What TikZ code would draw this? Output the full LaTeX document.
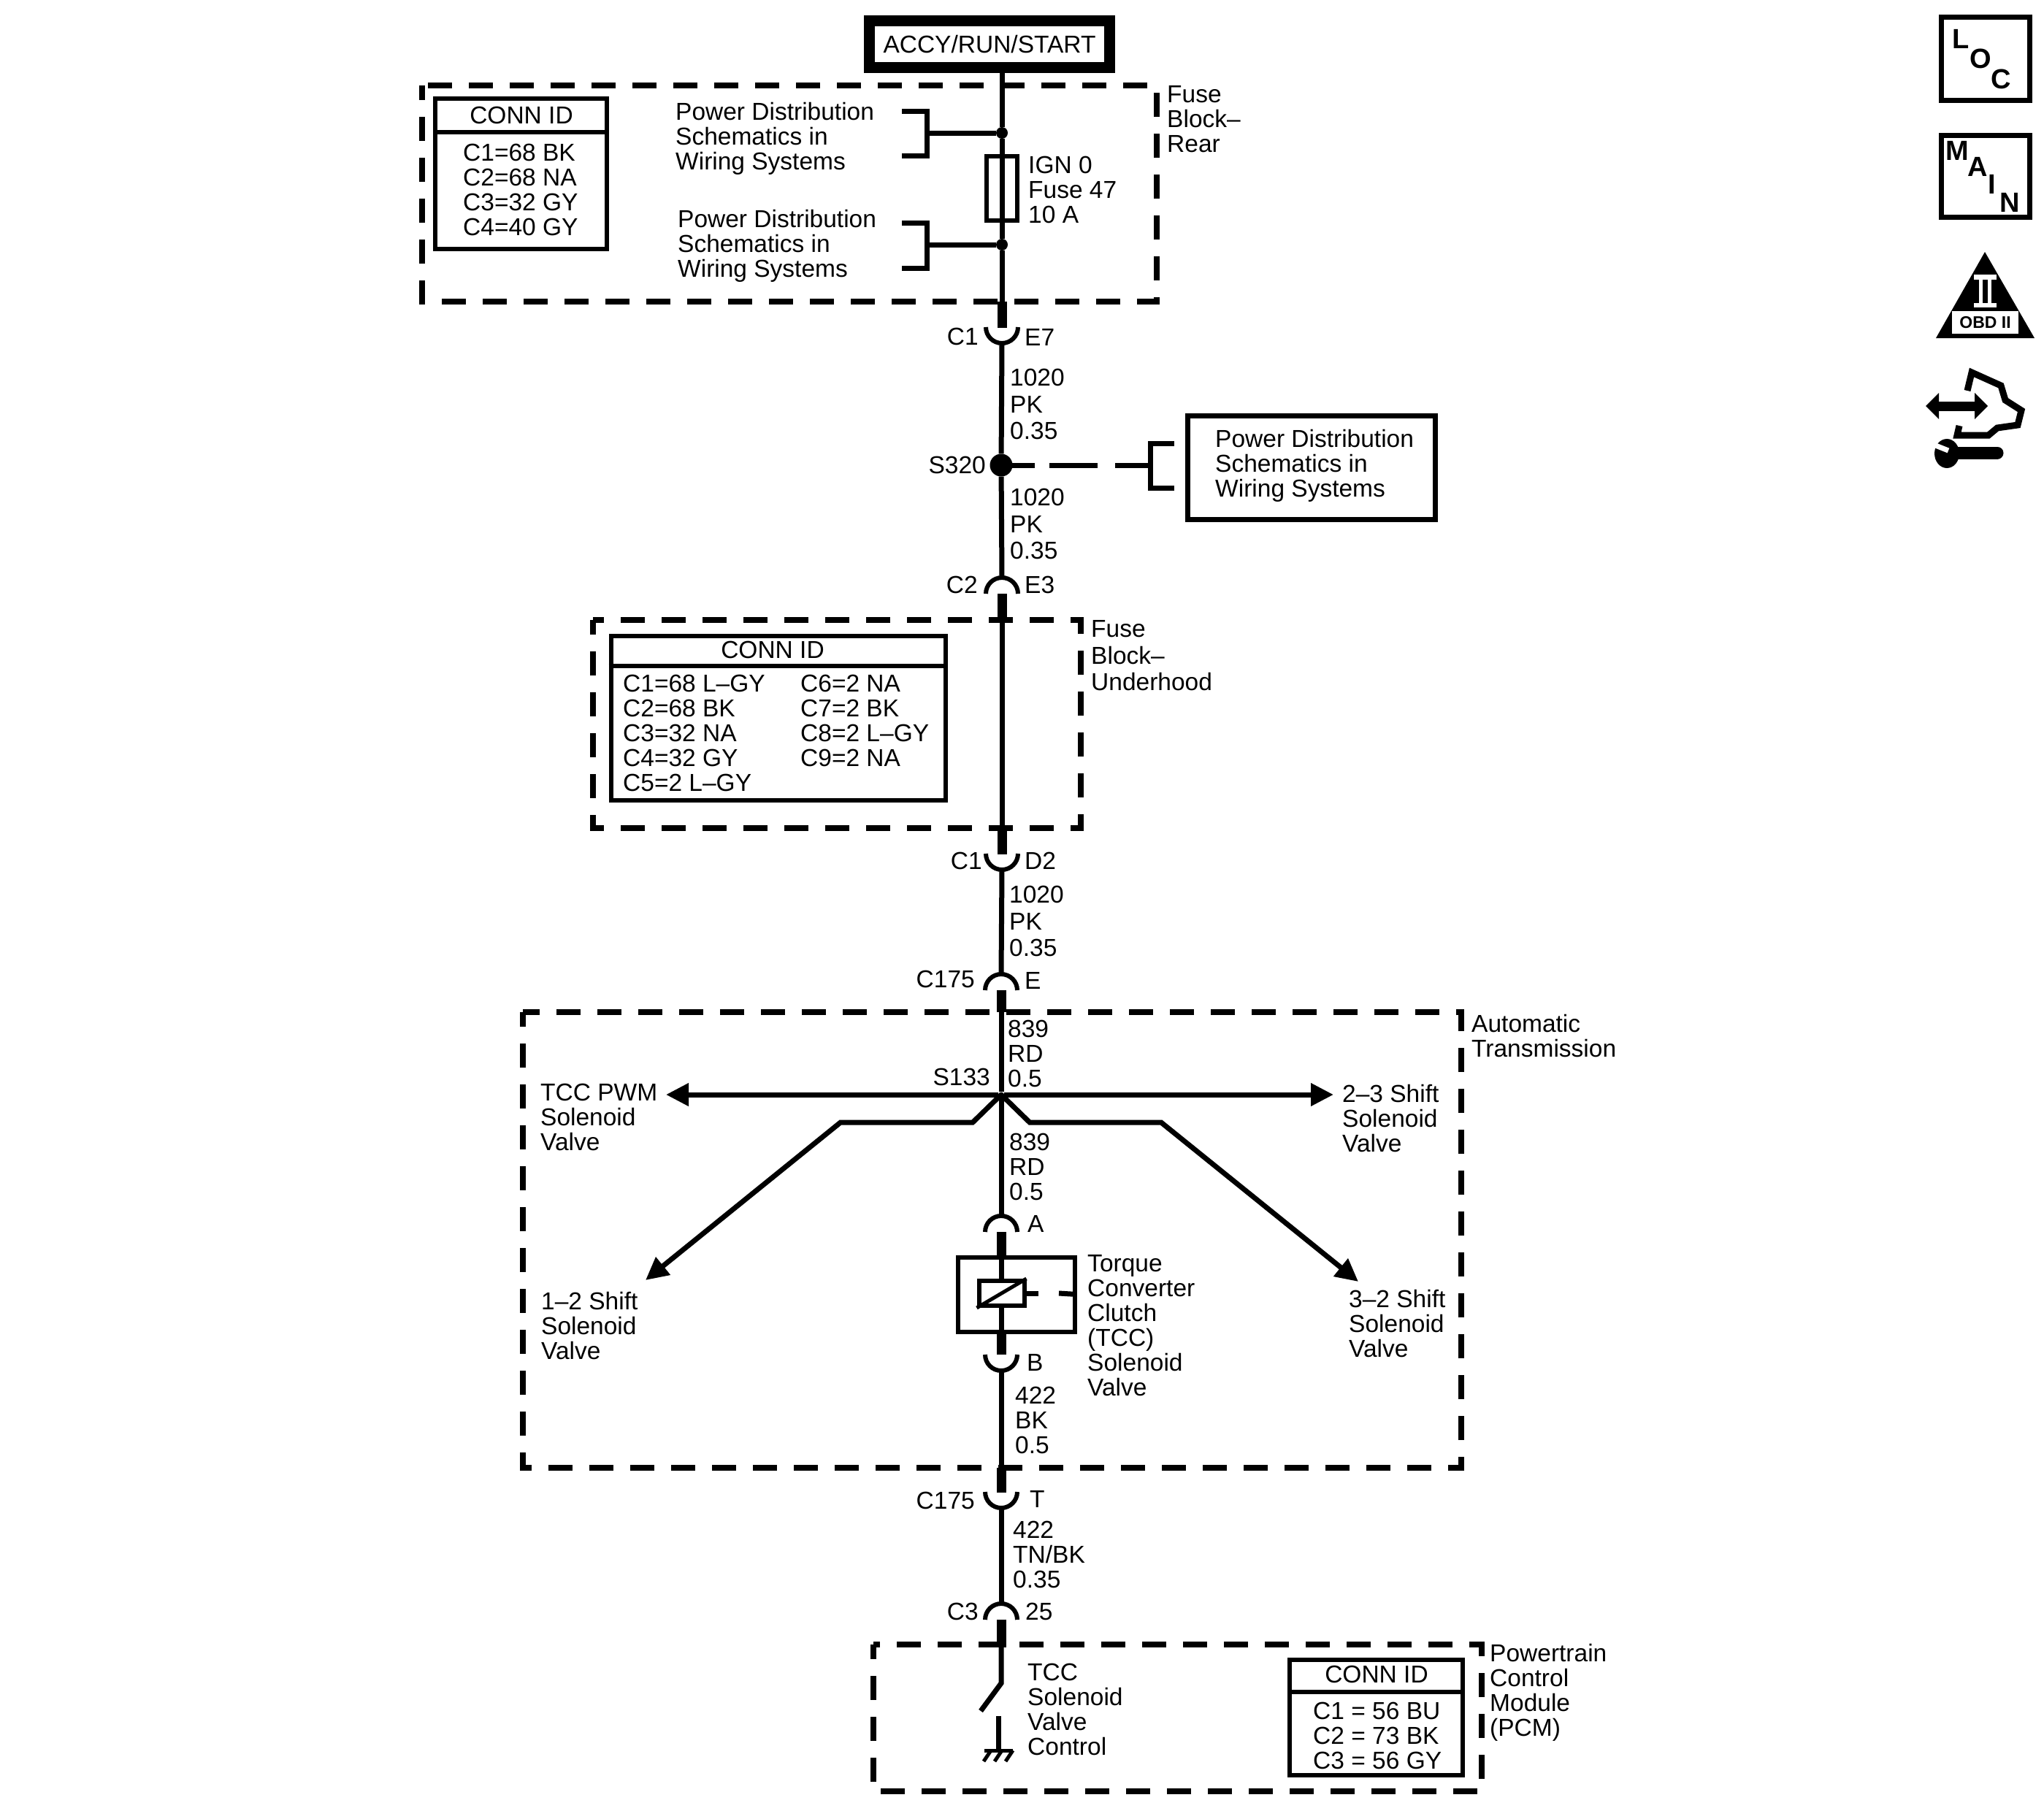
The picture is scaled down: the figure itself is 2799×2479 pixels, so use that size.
\documentclass[tikz,border=0pt]{standalone}
\usepackage{fontspec}
\setmainfont{Liberation Sans}
\usetikzlibrary{arrows.meta}
\begin{document}
\begin{tikzpicture}[x=1pt,y=-1pt,
    wire/.style ={line width=7pt},
    thickwire/.style ={line width=13pt},
    branch/.style ={line width=7pt,-{Triangle[length=31pt,width=30pt]}},
    plug/.style ={line width=6pt},
    dashbox/.style ={line width=8pt,dash pattern=on 33pt off 23pt,dash phase=13pt},
    box/.style ={rectangle,draw,line width=6pt,inner sep=0pt},
    dot/.style ={circle,fill,inner sep=0pt,minimum size=16pt},
    lbl/.style ={font=\fontsize{33.5}{34}\selectfont,inner sep=0pt,anchor=base west,align=left,yshift=1.5pt},
    lblr/.style ={font=\fontsize{33.5}{34}\selectfont,inner sep=0pt,anchor=base east,yshift=1.5pt},
    wirelbl/.style ={font=\fontsize{33.5}{36.5}\selectfont,inner sep=0pt,anchor=base west,align=left,yshift=1.5pt},
    letter/.style ={font=\bfseries\fontsize{38}{38}\selectfont,inner sep=0pt}]
   \useasboundingbox (0,0) rectangle (2799,2479);
   % power source
   \node[box,line width=15pt,minimum width=329pt,minimum height=64pt,font=\fontsize{33.5}{34}\selectfont] (accy) at (1355,60.5) {ACCY/RUN/START};
   % main wire points
   \coordinate (top) at (1372,92);
   \coordinate (e7in) at (1372,413);
   \coordinate (e7) at (1372,448);
   \coordinate (e7out) at (1372,470);
   \coordinate (e3in) at (1372,791);
   \coordinate (e3) at (1372,813);
   \coordinate (e3out) at (1372,850);
   \coordinate (d2in) at (1372,1133);
   \coordinate (d2) at (1372,1169);
   \coordinate (d2out) at (1372,1191);
   \coordinate (ein) at (1371,1334);
   \coordinate (e) at (1371,1356);
   \coordinate (eout) at (1371,1386);
   \node[dot,minimum size=7pt] (s133) at (1371,1499) {};
   \coordinate (ain) at (1371,1665);
   \coordinate (a) at (1371,1687);
   \coordinate (bpin) at (1371,1855);
   \coordinate (bout) at (1371,1877);
   \coordinate (tin) at (1371,2010);
   \coordinate (t) at (1371,2043);
   \coordinate (tout) at (1371,2065);
   \coordinate (in25) at (1371,2196);
   \coordinate (pin25) at (1371,2218);
   \coordinate (out25) at (1371,2256);
   \coordinate (hinge) at (1371,2305);
   \coordinate (blade) at (1343,2343);
   % dashed housings
   \draw[dashbox] (578,117) rectangle (1584,413);
   \draw[dashbox] (812,849) rectangle (1480,1134);
   \draw[dashbox] (716,1386) rectangle (2001,2010);
   \draw[dashbox] (1196,2252) rectangle (2029,2453);
   % fuse block rear
   \node[dot] (sp1) at (1372,182) {};
   \node[dot] (sp2) at (1372,335) {};
   \node[box,minimum width=42pt,minimum height=88pt] (fuse) at (1372,258) {};
   \draw[wire] (top) -- (sp1) -- (fuse.north);
   \draw[wire] (fuse.north) -- (fuse.south);
   \draw[wire] (fuse.south) -- (sp2) -- (e7in);
   \draw[thickwire] (e7in) -- ([yshift=-1pt]e7);
   \coordinate (br1) at (1269,182);
   \coordinate (br2) at (1269,335);
   \draw[wire] (sp1) -- (br1);
   \draw[wire] (sp2) -- (br2);
   \draw[wire] (1235,152) -- (1269,152) -- (1269,213) -- (1235,213);
   \draw[wire] (1235,305) -- (1269,305) -- (1269,367) -- (1235,367);
   \node[lbl] (pd1) at (925,234) {Power Distribution\\Schematics in\\Wiring Systems};
   \node[lbl] (pd2) at (928,381) {Power Distribution\\Schematics in\\Wiring Systems};
   \node[lbl] (ign) at (1408,307) {IGN 0\\Fuse 47\\10 A};
   \node[lbl] (rear) at (1598,210) {Fuse\\Block--\\Rear};
   % conn id 1
   \node[box,minimum width=235pt,minimum height=206pt] (conn1) at (713.5,238) {};
   \draw[box] (conn1.west |- 0,181) -- (conn1.east |- 0,181);
   \node[lbl,anchor=base] (conn1t) at (714,171) {CONN ID};
   \node[lbl] (conn1l) at (634,324) {C1=68 BK\\C2=68 NA\\C3=32 GY\\C4=40 GY};
   % splice s320
   \node[dot,minimum size=31pt] (s320) at (1371,637) {};
   \node[lblr] (s320l) at (1350,650) {S320};
   \node[box,line width=7pt,minimum width=339pt,minimum height=142pt] (pd3box) at (1795.5,640) {};
   \node[lbl] (pd3) at (1664,682) {Power Distribution\\Schematics in\\Wiring Systems};
   \coordinate (br3) at (1575,637);
   \draw[wire,dash pattern=on 46pt off 20pt on 66pt off 24pt on 60pt] (s320.center) -- (br3);
   \draw[wire] (1608,607) -- (br3 |- 0,607) -- (br3 |- 0,668) -- (1608,668);
   \draw[wire] (e7out) -- (s320);
   \draw[wire] (s320) -- (e3in);
   \draw[thickwire] (e3) -- (e3out);
   \node[wirelbl] (w1) at (1383,603) {1020\\PK\\0.35};
   \node[wirelbl] (w2) at (1383,767) {1020\\PK\\0.35};
   % connector labels
   \node[lblr] (c1a) at (1340,474) {C1};
   \node[lbl] (e7l) at (1403,475) {E7};
   \node[lblr] (c2a) at (1339,814) {C2};
   \node[lbl] (e3l) at (1403,814) {E3};
   % fuse block underhood
   \draw[wire] (e3out) -- (d2in);
   \draw[thickwire] (d2in) -- ([yshift=-1pt]d2);
   \node[box,minimum width=458pt,minimum height=225pt] (conn2) at (1065.5,983.5) {};
   \draw[box] (conn2.west |- 0,912) -- (conn2.east |- 0,912);
   \node[lbl,anchor=base] (conn2t) at (1058,903) {CONN ID};
   \node[lbl] (conn2l) at (853,1085) {C1=68 L--GY\\C2=68 BK\\C3=32 NA\\C4=32 GY\\C5=2 L--GY};
   \node[lbl] (conn2r) at (1096,1051) {C6=2 NA\\C7=2 BK\\C8=2 L--GY\\C9=2 NA};
   \node[wirelbl] (under) at (1494,947) {Fuse\\Block--\\Underhood};
   \node[lblr] (c1b) at (1345,1192) {C1};
   \node[lbl] (d2l) at (1403,1192) {D2};
   \draw[wire] (d2out) -- (ein);
   \node[wirelbl] (w3) at (1382,1311) {1020\\PK\\0.35};
   \node[lblr] (c175a) at (1335,1354) {C175};
   \node[lbl] (el) at (1403,1356) {E};
   % automatic transmission
   \draw[thickwire] (e) -- (eout);
   \draw[wire] (eout) -- (s133);
   \node[lbl] (auto) at (2015,1449) {Automatic\\Transmission};
   \node[lbl] (w4) at (1380,1490) {839\\RD\\0.5};
   \node[lblr] (s133l) at (1356,1488) {S133};
   \coordinate (tccpwm) at (912,1499);
   \coordinate (sh23) at (1826,1499);
   \coordinate (sh12a) at (1332,1537);
   \coordinate (sh12b) at (1151,1537);
   \coordinate (sh12) at (884,1753);
   \coordinate (sh32a) at (1410,1537);
   \coordinate (sh32b) at (1590,1537);
   \coordinate (sh32) at (1860,1755);
   \draw[branch] (s133) -- (tccpwm);
   \draw[branch] (s133) -- (sh23);
   \draw[branch] (s133.center) -- (sh12a) -- (sh12b) -- (sh12);
   \draw[branch] (s133.center) -- (sh32a) -- (sh32b) -- (sh32);
   \node[lbl] (tccl) at (740,1577) {TCC PWM\\Solenoid\\Valve};
   \node[lbl] (l23) at (1838,1579) {2--3 Shift\\Solenoid\\Valve};
   \node[lbl] (l12) at (741,1863) {1--2 Shift\\Solenoid\\Valve};
   \node[lbl] (l32) at (1847,1860) {3--2 Shift\\Solenoid\\Valve};
   \draw[wire] (s133) -- (ain);
   \node[lbl] (w5) at (1382,1645) {839\\RD\\0.5};
   \node[lbl] (al) at (1407,1689) {A};
   % tcc solenoid
   \node[box,minimum width=160pt,minimum height=102pt] (sol) at (1391.5,1772.5) {};
   \node[box,minimum width=62pt,minimum height=34pt] (coil) at (1371.5,1771) {};
   \draw[line width=5pt] (coil.south west) -- (coil.north east);
   \draw[thickwire] (a) -- (1371,1719);
   \draw[wire] (1371,1722) -- (coil.north -| 1371,0);
   \draw[wire] (coil.south -| 1371,0) -- (1371,1823);
   \draw[thickwire] (1371,1826) -- (bpin);
   \draw[wire] (coil.east) -- (1422,1771);
   \draw[wire] (1450,1771) -- (sol.east);
   \node[lbl] (tcc) at (1489,1913) {Torque\\Converter\\Clutch\\(TCC)\\Solenoid\\Valve};
   \node[lbl] (bl) at (1406,1879) {B};
   \draw[wire] (bout) -- (tin);
   \node[lbl] (w6) at (1390,1992) {422\\BK\\0.5};
   \draw[thickwire] (tin) -- ([yshift=-1pt]t);
   \node[lblr] (c175b) at (1335,2068) {C175};
   \node[lbl] (tl) at (1410,2066) {T};
   \draw[wire] (tout) -- (in25);
   \node[lbl] (w7) at (1387,2176) {422\\TN/BK\\0.35};
   \node[lblr] (c3a) at (1340,2220) {C3};
   \node[lbl] (l25) at (1404,2220) {25};
   % pcm
   \draw[thickwire] (pin25) -- (out25);
   \draw[wire] (out25) -- (hinge) -- (blade);
   \coordinate (gnd) at (1367,2350);
   \coordinate (gndbar) at (1367,2397);
   \draw[wire] (gnd) -- (gndbar);
   \draw[line width=5pt] (1348,2397) -- (1387,2397);
   \foreach \gx in {1357,1372,1387}
     \draw[line width=5pt] (\gx,2397) -- ++(-10,15);
   \node[lbl] (tccv) at (1407,2405) {TCC\\Solenoid\\Valve\\Control};
   \node[box,minimum width=237pt,minimum height=158pt] (conn3) at (1884.5,2352) {};
   \draw[box] (conn3.west |- 0,2317) -- (conn3.east |- 0,2317);
   \node[lbl,anchor=base] (conn3t) at (1885,2306) {CONN ID};
   \node[lbl] (conn3l) at (1798,2424) {C1 = 56 BU\\C2 = 73 BK\\C3 = 56 GY};
   \node[lbl] (pcm) at (2040,2379) {Powertrain\\Control\\Module\\(PCM)};
   % connector arcs
   \foreach \c in {e7,d2,bpin,t}
     \draw[plug] (\c) ++(-22,0) arc[start angle=180,delta angle=-180,radius=22];
   \foreach \c in {e3,e,a,pin25}
     \draw[plug] (\c) ++(-22,0) arc[start angle=180,delta angle=180,radius=22];
   % side icons
   \node[box,line width=7pt,minimum width=121pt,minimum height=114pt] (loc) at (2719,80.5) {};
   \node[letter] (locl) at (2685,53) {L};
   \node[letter] (loco) at (2712,80) {O};
   \node[letter] (locc) at (2740,108) {C};
   \node[box,line width=7pt,minimum width=121pt,minimum height=112pt] (main) at (2719,241) {};
   \node[letter] (mainm) at (2680,206) {M};
   \node[letter] (maina) at (2708,228) {A};
   \node[letter] (maini) at (2728,252) {I};
   \node[letter] (mainn) at (2752,277) {N};
   \fill (2718,345) -- (2786,463) -- (2651,463) -- cycle;
   \fill[white] (2703,376) rectangle (2734,383);
   \fill[white] (2703,415) rectangle (2734,421);
   \fill[white] (2710,383) rectangle (2715,415);
   \fill[white] (2722,383) rectangle (2727,415);
   \node[fill=white,minimum width=91pt,minimum height=31pt,inner sep=0pt,font=\bfseries\fontsize{23}{23}\selectfont] (obd) at (2718.5,441.5) {OBD II};
   \draw[line width=13pt] (2650,556) -- (2708,556);
   \fill (2637,556) -- (2655,538) -- (2655,574) -- cycle;
   \fill (2722,556) -- (2704,538) -- (2704,574) -- cycle;
   \draw[line width=9pt] (2694,535) -- (2700,510) -- (2740,528) -- (2746,548) -- (2768,562) -- (2763,582) -- (2735,586) -- (2723,596) -- (2680,596) -- (2683,583);
   \fill (2666,621) ellipse [x radius=17,y radius=20];
   \draw[line width=17pt,line cap=round] (2675,620) -- (2735,620);
   \draw[white,line width=7pt] (2648,609) -- (2668,617);
 \end{tikzpicture}
\end{document}
